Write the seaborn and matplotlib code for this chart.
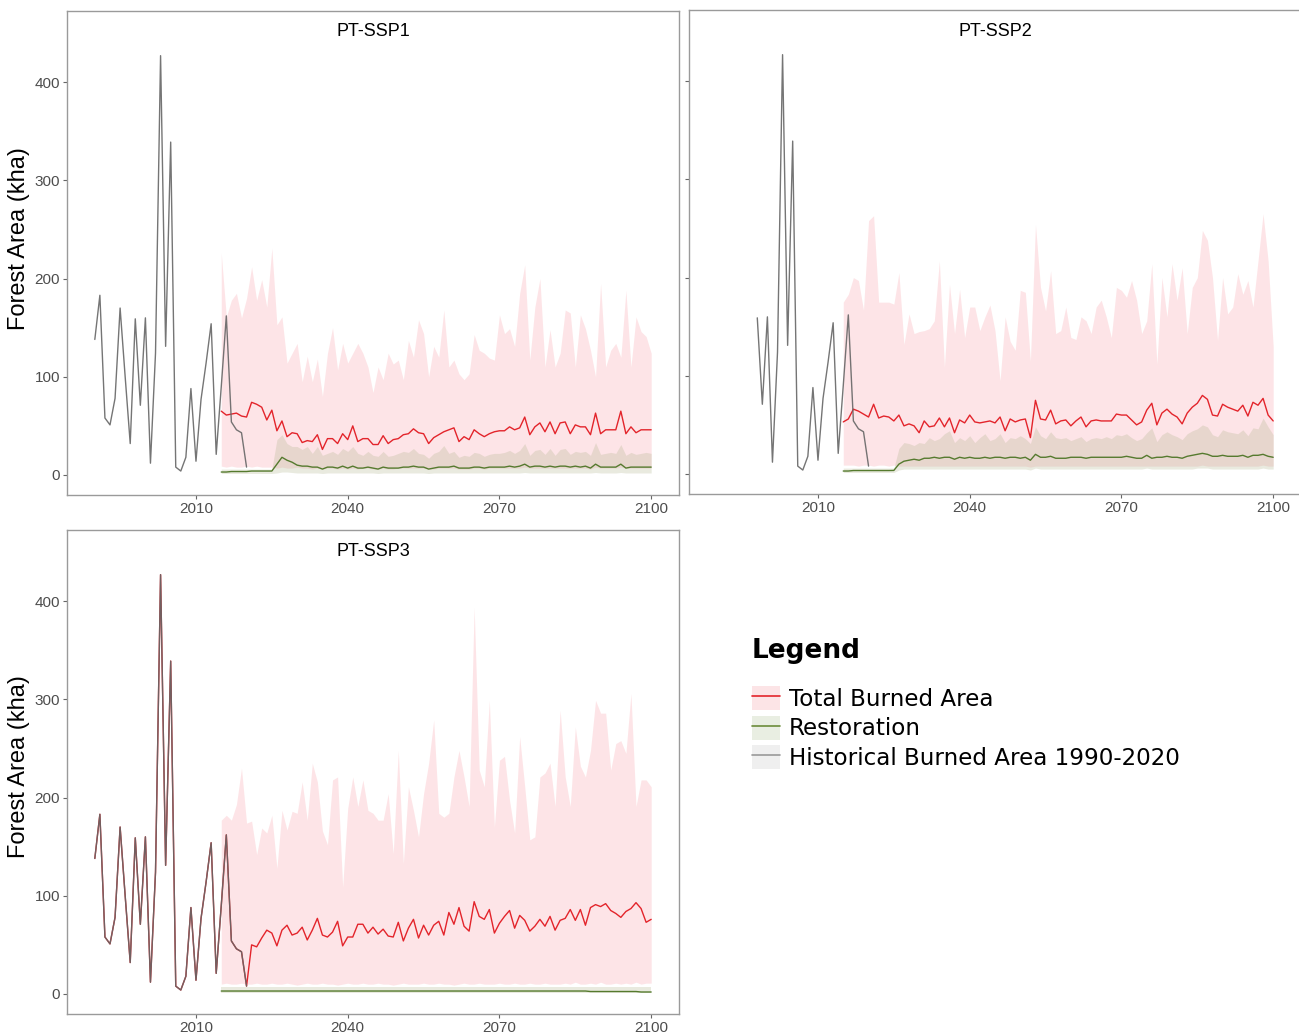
import numpy as np
import pandas as pd
import matplotlib
matplotlib.use("Agg")
import matplotlib.pyplot as plt
from matplotlib.patches import Patch
from matplotlib.lines import Line2D
import seaborn as sns

# ---- data (kha) ----
hist_years = list(range(1990, 2021))
hist_area = [138, 183, 58, 51, 78, 170, 100, 32, 159, 71, 160, 12, 124, 427, 131, 339,
             8, 4, 18, 88, 14, 77, 114, 154, 21, 90, 162, 54, 46, 43, 8]

proj_years = list(range(2015, 2101))

ssp1_total = [65, 61, 62, 63, 60, 59, 74, 72, 69, 56,
              66, 45, 55, 39, 43, 42, 33, 35, 34, 41,
              26, 37, 37, 32, 42, 36, 50, 34, 37, 37,
              31, 31, 40, 32, 36, 37, 41, 42, 47, 43,
              42, 32, 38, 41, 44, 46, 48, 34, 39, 36,
              46, 42, 39, 42, 44, 45, 45, 49, 46, 48,
              59, 41, 49, 53, 44, 54, 42, 53, 54, 42,
              51, 49, 49, 41, 63, 42, 46, 46, 46, 65,
              42, 49, 43, 46, 46, 46]
ssp1_upper = [226, 161, 178, 185, 160, 180, 212, 178, 199, 171,
              231, 153, 161, 114, 124, 134, 95, 121, 95, 118,
              80, 124, 150, 107, 134, 114, 124, 134, 124, 110,
              84, 110, 97, 124, 113, 117, 97, 137, 120, 158,
              144, 100, 131, 120, 168, 110, 117, 103, 97, 103,
              143, 127, 124, 119, 117, 163, 144, 149, 131, 185,
              214, 117, 171, 200, 110, 148, 110, 124, 168, 165,
              110, 163, 149, 127, 100, 195, 110, 127, 134, 120,
              188, 110, 161, 146, 141, 124]
ssp1_lower = [9, 8, 9, 8, 8, 9, 8, 9, 8, 8,
              8, 7, 8, 7, 7, 8, 7, 7, 6, 7,
              6, 7, 7, 6, 7, 6, 7, 6, 7, 7,
              6, 6, 7, 6, 6, 7, 7, 7, 7, 7,
              7, 6, 6, 7, 7, 7, 7, 6, 6, 6,
              7, 7, 6, 7, 7, 7, 7, 7, 7, 7,
              8, 7, 7, 7, 7, 7, 7, 7, 7, 7,
              7, 7, 7, 6, 8, 7, 7, 7, 7, 8,
              7, 7, 7, 7, 7, 7]
ssp1_rest = [3, 3, 3.5, 3.5, 3.5, 3.5, 4, 4, 4, 4,
             4, 11, 18, 15, 13, 10, 9, 9, 8, 8,
             6, 8, 8, 7, 9, 7, 9, 7, 7, 8,
             7, 6, 8, 7, 7, 7, 8, 8, 9, 8,
             8, 6, 7, 8, 8, 8, 9, 7, 7, 7,
             8, 8, 7, 8, 8, 8, 8, 9, 8, 9,
             11, 8, 9, 9, 8, 9, 8, 9, 9, 8,
             9, 8, 9, 7, 11, 8, 8, 8, 8, 11,
             7, 8, 8, 8, 8, 8]
ssp1_rest_hi = [6, 6, 6, 6, 6, 6, 6, 6, 6, 6,
                6, 36, 41, 32, 29, 29, 26, 29, 22, 29,
                20, 22, 24, 21, 27, 24, 29, 22, 20, 24,
                20, 19, 24, 19, 20, 22, 24, 23, 27, 22,
                21, 17, 22, 24, 30, 22, 24, 18, 20, 19,
                23, 22, 19, 21, 22, 22, 23, 25, 22, 25,
                32, 20, 25, 26, 21, 27, 20, 26, 27, 21,
                24, 23, 24, 20, 33, 21, 22, 23, 22, 31,
                20, 23, 21, 22, 23, 22]
ssp1_rest_lo = [1.5, 1.5, 1.5, 1.5, 1.5, 1.5, 1.5, 1.5, 1.5, 1.5,
                1.5, 2, 3, 3, 2.5, 2, 2, 2, 2, 2,
                1.5, 2, 2, 2, 2, 2, 2, 2, 2, 2,
                2, 1.5, 2, 2, 2, 2, 2, 2, 2, 2,
                2, 1.5, 2, 2, 2, 2, 2, 2, 2, 2,
                2, 2, 2, 2, 2, 2, 2, 2, 2, 2,
                2.5, 2, 2, 2, 2, 2, 2, 2, 2, 2,
                2, 2, 2, 2, 2.5, 2, 2, 2, 2, 2.5,
                2, 2, 2, 2, 2, 2]

ssp2_total = [53, 56, 66, 64, 61, 58, 71, 57, 59, 58,
              54, 60, 49, 51, 49, 42, 54, 48, 49, 57,
              48, 57, 42, 55, 52, 60, 53, 52, 53, 54,
              52, 58, 44, 56, 53, 55, 56, 37, 75, 56,
              55, 65, 51, 54, 55, 49, 54, 58, 48, 54,
              55, 54, 54, 54, 61, 60, 60, 55, 50, 53,
              65, 72, 50, 62, 66, 61, 58, 51, 62, 68,
              72, 80, 76, 60, 59, 71, 68, 66, 64, 70,
              59, 73, 70, 77, 60, 54]
ssp2_upper = [175, 183, 200, 197, 167, 258, 263, 175, 175, 175,
              173, 205, 132, 163, 143, 145, 146, 148, 156, 217,
              109, 193, 143, 188, 139, 170, 170, 146, 160, 172,
              146, 95, 160, 135, 126, 187, 185, 115, 254, 190,
              166, 207, 143, 146, 170, 139, 137, 160, 156, 143,
              170, 177, 160, 139, 190, 187, 180, 197, 177, 143,
              156, 214, 112, 200, 160, 214, 177, 210, 143, 190,
              200, 248, 238, 200, 136, 200, 163, 170, 204, 183,
              197, 170, 217, 265, 217, 130]
ssp2_lower = [9, 9, 9, 8, 9, 9, 8, 9, 9, 8,
              9, 8, 8, 8, 8, 8, 8, 8, 8, 8,
              8, 8, 8, 8, 8, 8, 8, 8, 8, 8,
              8, 8, 8, 8, 8, 8, 8, 7, 8, 8,
              8, 8, 8, 8, 8, 8, 8, 8, 8, 8,
              8, 8, 8, 8, 8, 8, 8, 8, 8, 8,
              8, 8, 8, 8, 8, 8, 8, 8, 8, 8,
              8, 9, 8, 8, 8, 8, 8, 8, 8, 8,
              8, 8, 8, 9, 8, 8]
ssp2_rest = [3, 3, 3.5, 3.5, 3.5, 3.5, 3.5, 3.5, 3.5, 3.5,
             3.6, 10, 13, 14, 15, 14, 16, 16, 17, 16,
             17, 17, 15, 17, 16, 17, 16, 16, 17, 16,
             17, 17, 16, 17, 17, 16, 17, 14, 20, 17,
             17, 18, 16, 16, 16, 17, 17, 17, 16, 17,
             17, 17, 17, 17, 17, 17, 18, 17, 16, 16,
             19, 16, 17, 17, 18, 17, 17, 16, 18, 19,
             20, 21, 20, 18, 18, 19, 18, 18, 18, 19,
             17, 19, 19, 20, 18, 17]
ssp2_rest_hi = [6, 6, 6, 6, 6, 6, 6, 6, 6, 6,
                6, 26, 32, 31, 29, 32, 31, 37, 34, 36,
                41, 44, 32, 37, 34, 39, 32, 37, 41, 34,
                36, 41, 32, 37, 36, 39, 36, 31, 48, 39,
                36, 43, 37, 36, 37, 34, 36, 38, 33, 36,
                37, 36, 38, 36, 40, 39, 41, 37, 34, 36,
                42, 47, 33, 40, 43, 40, 38, 35, 41, 44,
                46, 50, 48, 40, 38, 45, 43, 42, 41, 45,
                39, 47, 46, 57, 48, 40]
ssp2_rest_lo = [1.5, 1.5, 1.5, 1.5, 1.5, 1.5, 1.5, 1.5, 1.5, 1.5,
                1.5, 4, 5, 5, 5, 5, 5, 5, 5, 5,
                5, 5, 5, 5, 5, 5, 5, 5, 5, 5,
                5, 5, 5, 5, 5, 5, 5, 4, 6, 5,
                5, 5, 5, 5, 5, 5, 5, 5, 5, 5,
                5, 5, 5, 5, 5, 5, 5, 5, 5, 5,
                6, 5, 5, 5, 5, 5, 5, 5, 5, 5,
                6, 6, 6, 5, 5, 5, 5, 5, 5, 5,
                5, 5, 5, 6, 5, 5]

# SSP3 projection continues the historical record from 2021
ssp3_total = [50, 48, 57, 65, 62, 49, 65, 70, 60, 62,
              68, 55, 65, 77, 60, 58, 63, 74, 49, 58,
              58, 71, 71, 62, 68, 61, 66, 59, 58, 73,
              54, 67, 76, 57, 70, 60, 70, 74, 60, 83,
              71, 88, 69, 64, 94, 79, 76, 86, 62, 72,
              79, 85, 67, 80, 75, 64, 69, 76, 69, 79,
              65, 75, 77, 86, 75, 86, 70, 88, 91, 89,
              92, 85, 82, 78, 84, 87, 93, 87, 73, 76]
ssp3_upper = [177, 182, 177, 193, 230, 174, 176, 142, 169, 164,
              182, 128, 187, 167, 186, 184, 216, 177, 235, 216,
              166, 152, 218, 221, 109, 189, 221, 191, 218, 187,
              184, 177, 177, 204, 143, 248, 133, 211, 187, 160,
              204, 235, 279, 184, 180, 184, 221, 248, 221, 191,
              394, 228, 211, 299, 170, 238, 242, 197, 164, 262,
              211, 157, 160, 221, 225, 235, 191, 289, 221, 191,
              272, 232, 221, 248, 299, 286, 286, 228, 255, 258,
              245, 306, 191, 218, 218, 211]
ssp3_lower = [10, 11, 10, 10, 11, 10, 10, 11, 10, 10,
              11, 10, 10, 11, 10, 9, 10, 11, 10, 10,
              11, 10, 10, 9, 10, 11, 10, 10, 11, 10,
              10, 11, 10, 10, 9, 10, 11, 10, 10, 10,
              11, 10, 10, 11, 10, 10, 9, 10, 11, 10,
              10, 11, 10, 10, 10, 11, 10, 10, 11, 10,
              10, 11, 10, 10, 11, 10, 10, 10, 11, 10,
              12, 10, 10, 11, 10, 12, 10, 10, 11, 10,
              11, 10, 12, 10, 11, 11]
ssp3_rest = [3, 3, 3, 3, 3, 3, 3, 3, 3, 3,
             3, 3, 3, 3, 3, 3, 3, 3, 3, 3,
             3, 3, 3, 3, 3, 3, 3, 3, 3, 3,
             3, 3, 3, 3, 3, 3, 3, 3, 3, 3,
             3, 3, 3, 3, 3, 3, 3, 3, 3, 3,
             3, 3, 3, 3, 3, 3, 3, 3, 3, 3,
             3, 3, 3, 3, 3, 3, 3, 3, 3, 3,
             3, 3, 3, 2.5, 2.5, 2.5, 2.5, 2.5, 2.5, 2.5,
             2.5, 2.5, 2.5, 2, 2, 2]
ssp3_rest_hi = [7] * 86
ssp3_rest_lo = [1] * 86

panel_titles = ["PT-SSP1", "PT-SSP2", "PT-SSP3"]
legend_labels = ["Total Burned Area", "Restoration", "Historical Burned Area 1990-2020"]

# ---- style ----
RED = "#e3242b"
GREEN = "#557a2e"
GRAY = "#666666"
PINK_FILL = "#f9a8b0"
REST_FILL = "#a8ae82"

sns.set_style("white")
plt.rcParams["font.family"] = ["Liberation Sans", "DejaVu Sans"]

W, H = 1299, 1035
fig = plt.figure(figsize=(W / 100, H / 100), dpi=100)


def px_axes(left, top, right, bottom):
    return fig.add_axes([left / W, 1 - bottom / H, (right - left) / W, (bottom - top) / H])


def draw_panel(ax, title, total_x, total_y, upper, lower, rest, rest_hi, rest_lo,
               hist_start, ylabels=True):
    ax.fill_between(proj_years, lower, upper, color=PINK_FILL, alpha=0.3, lw=0, zorder=1)
    ax.fill_between(proj_years, rest_lo, rest_hi, color=REST_FILL, alpha=0.25, lw=0, zorder=2)
    sns.lineplot(x=total_x, y=total_y, ax=ax, color=RED, lw=1.0, zorder=3)
    sns.lineplot(x=proj_years, y=rest, ax=ax, color=GREEN, lw=1.0, zorder=4)
    i0 = hist_years.index(hist_start)
    sns.lineplot(x=hist_years[i0:], y=hist_area[i0:], ax=ax, color=GRAY, alpha=0.9,
                 lw=1.0, zorder=5)

    ax.set_xlim(1984.5, 2105.5)
    ax.set_ylim(-20.4, 472.5)
    ax.set_xticks([2010, 2040, 2070, 2100])
    ax.set_yticks([0, 100, 200, 300, 400])
    ax.tick_params(axis="both", direction="out", length=3, width=0.8, color="#666666",
                   labelsize=11, labelcolor="#4d4d4d", pad=2)
    ax.tick_params(axis="both", which="both", bottom=True, left=True)
    for s in ax.spines.values():
        s.set_color("#9a9a9a")
        s.set_linewidth(1.0)
    ax.set_xlabel("")
    ax.set_ylabel("")
    if not ylabels:
        ax.set_yticklabels([])
    ax.text(0.5, 1 - 21 / 484, title, transform=ax.transAxes, ha="center", va="center",
            fontsize=13, color="black")


ax1 = px_axes(67, 11, 679, 495)
ax2 = px_axes(689, 10, 1301, 494)
ax3 = px_axes(67, 530, 679, 1014)

draw_panel(ax1, panel_titles[0], proj_years, ssp1_total, ssp1_upper, ssp1_lower,
           ssp1_rest, ssp1_rest_hi, ssp1_rest_lo, 1990)
draw_panel(ax2, panel_titles[1], proj_years, ssp2_total, ssp2_upper, ssp2_lower,
           ssp2_rest, ssp2_rest_hi, ssp2_rest_lo, 1998, ylabels=False)
ssp3_x = hist_years + list(range(2021, 2101))
ssp3_y = hist_area + ssp3_total
draw_panel(ax3, panel_titles[2], ssp3_x, ssp3_y, ssp3_upper, ssp3_lower,
           ssp3_rest, ssp3_rest_hi, ssp3_rest_lo, 1990)

for yc in (239, 767):
    fig.text(19 / W, 1 - yc / H, "Forest Area (kha)", rotation=90, ha="center", va="center",
             fontsize=17, color="black")

# ---- legend ----
fig.text(752 / W, 1 - 651 / H, "Legend", fontsize=19, fontweight="bold",
         family="DejaVu Sans", ha="left", va="center", color="black")
handles = [
    (Patch(facecolor="#fce4e6", edgecolor="none"), Line2D([], [], color=RED, lw=1.2)),
    (Patch(facecolor="#e9eee2", edgecolor="none"), Line2D([], [], color="#6b8c3a", lw=1.2)),
    (Patch(facecolor="#efefef", edgecolor="none"), Line2D([], [], color="#999999", lw=1.2)),
]
leg = fig.legend(handles, legend_labels, loc="upper left",
                 bbox_to_anchor=(752 / W, 1 - 686 / H),
                 frameon=False, borderpad=0, borderaxespad=0, handlelength=1.2,
                 handleheight=1.25, handletextpad=0.4, labelspacing=0.2,
                 prop={"family": "DejaVu Sans", "size": 16.6})
for t in leg.get_texts():
    t.set_color("black")

fig.savefig("out.png", dpi=100)
